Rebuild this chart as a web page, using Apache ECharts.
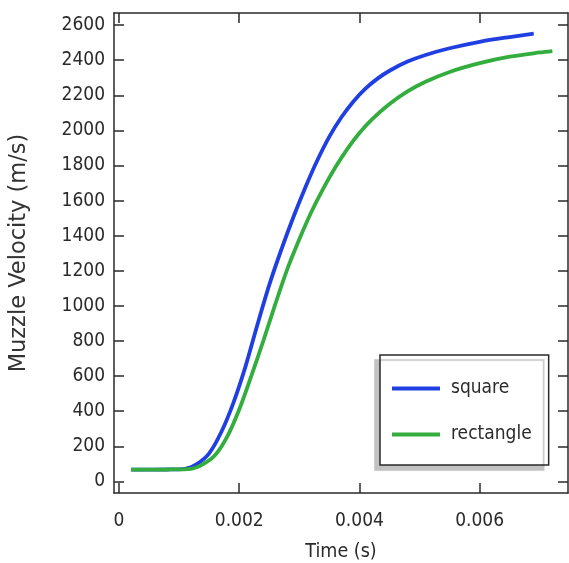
<!DOCTYPE html>
<html>
<head>
<meta charset="utf-8">
<script src="https://cdn.jsdelivr.net/npm/echarts@6/dist/echarts.min.js"></script>
<style>
  html, body { margin: 0; padding: 0; background: #fff; }
  #chart { width: 569px; height: 563px; }
</style>
</head>
<body>
<div id="chart"></div>
<script>
// Muzzle velocity vs. time for the two bore profiles
const squareTime = [0.0002, 0.0008, 0.0011, 0.0013, 0.0015, 0.0017, 0.0019, 0.0021, 0.0023, 0.0025, 0.0027, 0.0029, 0.0031, 0.0033, 0.0035, 0.0037, 0.0039, 0.0041, 0.0043, 0.0045, 0.0048, 0.0051, 0.0055, 0.0060, 0.0065, 0.0069];
const squareVel  = [67, 68, 72, 100, 160, 280, 445, 650, 890, 1120, 1320, 1505, 1675, 1830, 1965, 2075, 2165, 2238, 2295, 2340, 2392, 2430, 2468, 2505, 2532, 2551];

const rectTime = [0.0002, 0.0008, 0.0012, 0.0014, 0.0016, 0.0018, 0.0020, 0.0022, 0.0024, 0.0026, 0.0028, 0.0030, 0.0032, 0.0034, 0.0036, 0.0038, 0.0040, 0.0042, 0.0045, 0.0048, 0.0051, 0.0055, 0.0060, 0.0065, 0.0070, 0.00721];
const rectVel  = [67, 68, 72, 98, 150, 255, 410, 600, 800, 1010, 1210, 1380, 1535, 1670, 1790, 1895, 1985, 2060, 2150, 2222, 2277, 2333, 2383, 2420, 2444, 2452];

const seriesNames = ['square', 'rectangle'];
const seriesColors = ['#1f3fe3', '#33ad3d'];

const xTicks = [0, 0.002, 0.004, 0.006];
const xTickLabels = ['0', '0.002', '0.004', '0.006'];
const yTicks = [0, 200, 400, 600, 800, 1000, 1200, 1400, 1600, 1800, 2000, 2200, 2400, 2600];

const X_MIN = -0.0000833, X_MAX = 0.00747;
const Y_MIN = -66, Y_MAX = 2669;

const FONT = "'DejaVu Sans Condensed', 'DejaVu Sans', sans-serif";
const NAME_FONT = "'DejaVu Sans', sans-serif";
const INK = '#2a2a2a';

function pairs(xs, ys) { return xs.map((x, i) => [x, ys[i]]); }

const frameLine = { show: true, onZero: false, lineStyle: { color: INK, width: 1.5 } };
const tickStyle = { show: true, inside: true, length: 10, lineStyle: { color: INK, width: 1.5 } };

const chart = echarts.init(document.getElementById('chart'), null, { renderer: 'canvas' });
chart.setOption({
  animation: false,
  backgroundColor: '#fff',
  grid: { left: 114, top: 13, width: 454, height: 480, containLabel: false, outerBoundsMode: 'none' },
  xAxis: [
    {
      type: 'value', position: 'bottom', min: X_MIN, max: X_MAX,
      name: 'Time (s)', nameLocation: 'middle', nameGap: 49,
      nameTextStyle: { fontFamily: FONT, fontSize: 19.5, color: INK },
      axisLine: frameLine,
      axisTick: Object.assign({ customValues: xTicks }, tickStyle),
      axisLabel: {
        customValues: xTicks, margin: 19, fontFamily: FONT, fontSize: 19, color: INK,
        formatter: v => xTickLabels[xTicks.findIndex(t => Math.abs(t - v) < 1e-9)]
      },
      splitLine: { show: false }
    },
    {
      type: 'value', position: 'top', min: X_MIN, max: X_MAX,
      axisLine: frameLine,
      axisTick: Object.assign({ customValues: xTicks }, tickStyle),
      axisLabel: { show: false },
      splitLine: { show: false }
    }
  ],
  yAxis: [
    {
      type: 'value', position: 'left', min: Y_MIN, max: Y_MAX,
      name: 'Muzzle Velocity (m/s)', nameLocation: 'middle', nameGap: 83,
      nameTextStyle: { fontFamily: NAME_FONT, fontSize: 22.5, color: '#333' },
      axisLine: frameLine,
      axisTick: Object.assign({ customValues: yTicks }, tickStyle),
      axisLabel: {
        customValues: yTicks, margin: 9, fontFamily: FONT, fontSize: 19, color: INK,
        formatter: v => String(v)
      },
      splitLine: { show: false }
    },
    {
      type: 'value', position: 'right', min: Y_MIN, max: Y_MAX,
      axisLine: frameLine,
      axisTick: Object.assign({ customValues: yTicks }, tickStyle),
      axisLabel: { show: false },
      splitLine: { show: false }
    }
  ],
  legend: {
    left: 380, top: 355,
    orient: 'vertical',
    data: seriesNames.map(n => ({ name: n, icon: 'rect' })),
    itemWidth: 48, itemHeight: 4, itemGap: 27,
    padding: [24, 17, 21, 12],
    backgroundColor: '#fff',
    borderColor: INK, borderWidth: 1.5,
    shadowColor: '#c2c2c2', shadowBlur: 1, shadowOffsetX: -5, shadowOffsetY: 5,
    textStyle: { fontFamily: FONT, fontSize: 19, color: INK, padding: [0, 0, 0, 6] }
  },
  series: seriesNames.map((name, i) => ({
    name, type: 'line', xAxisIndex: 0, yAxisIndex: 0,
    data: i === 0 ? pairs(squareTime, squareVel) : pairs(rectTime, rectVel),
    smooth: 0.3, symbol: 'none',
    lineStyle: { color: seriesColors[i], width: 3.8 },
    itemStyle: { color: seriesColors[i] }
  }))
});
</script>
</body>
</html>
